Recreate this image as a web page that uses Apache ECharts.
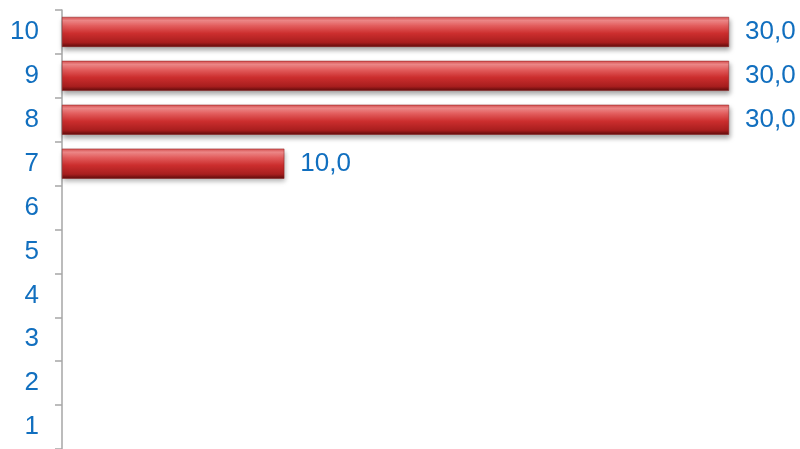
<!DOCTYPE html>
<html>
<head>
<meta charset="utf-8">
<script src="https://cdn.jsdelivr.net/npm/echarts@6/dist/echarts.min.js"></script>
<style>
  html, body { margin: 0; padding: 0; background: #fff; }
  #main { width: 800px; height: 449px; }
</style>
</head>
<body>
<div id="main"></div>
<script>
// categories bottom to top
const categories = ['1', '2', '3', '4', '5', '6', '7', '8', '9', '10'];
const values = [null, null, null, null, null, null, 10, 30, 30, 30];

const blue = '#116fbf';
const grey = '#a6a6a6';

const chart = echarts.init(document.getElementById('main'));

const option = {
  animation: false,
  grid: { left: 62, top: 10, width: 667, height: 441 },
  xAxis: {
    type: 'value',
    min: 0,
    max: 30,
    show: false
  },
  yAxis: {
    type: 'category',
    data: categories,
    axisLine: { lineStyle: { color: grey, width: 1.5 } },
    axisTick: { show: true, length: 7, lineStyle: { color: grey, width: 1.5 } },
    axisLabel: {
      color: blue,
      fontSize: 26,
      fontFamily: 'Liberation Sans',
      margin: 23
    },
    splitLine: { show: false }
  },
  series: [
    {
      type: 'bar',
      data: values,
      barWidth: 30,
      itemStyle: {
        color: new echarts.graphic.LinearGradient(0, 0, 0, 1, [
          { offset: 0, color: '#d85050' },
          { offset: 0.12, color: '#f28a8a' },
          { offset: 0.3, color: '#e25c5c' },
          { offset: 0.55, color: '#cc2e2e' },
          { offset: 0.85, color: '#a81e1e' },
          { offset: 1, color: '#5e0c0c' }
        ]),
        borderColor: '#8a1a1a',
        borderWidth: 0.5,
        shadowColor: 'rgba(0,0,0,0.35)',
        shadowBlur: 5,
        shadowOffsetY: 3,
        shadowOffsetX: 1
      },
      label: {
        show: true,
        position: 'right',
        distance: 16,
        color: blue,
        fontSize: 26,
        fontFamily: 'Liberation Sans',
        formatter: p => (p.value == null ? '' : p.value.toFixed(1).replace('.', ','))
      }
    }
  ]
};

chart.setOption(option);
</script>
</body>
</html>
